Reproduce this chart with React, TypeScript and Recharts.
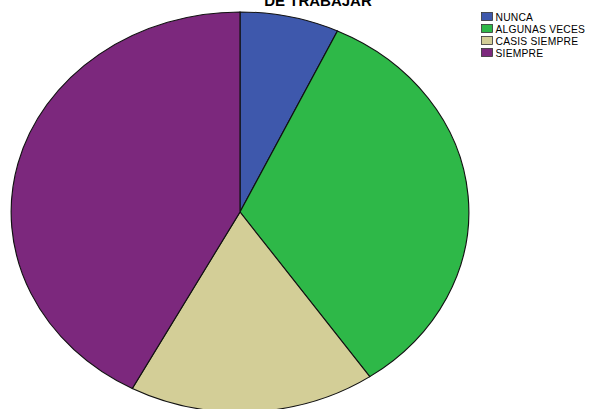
import { PieChart, Pie, Cell } from "recharts";

const categories = ["NUNCA", "ALGUNAS VECES", "CASIS SIEMPRE", "SIEMPRE"];
const values = [7.0, 33.4, 17.4, 42.2];
const COLORS = ["#3E58AC", "#2EB848", "#D3CE97", "#7C287D"];

const data = categories.map((name, i) => ({ name, value: values[i] }));

const App = () => {
  return (
    <div
      style={{
        position: "absolute",
        left: 0,
        top: 0,
        width: 589,
        height: 409,
        overflow: "hidden",
        background: "#fff",
        fontFamily: "'Liberation Sans', Arial, sans-serif",
      }}
    >
      {/* pie drawn as a circle, stretched into an ellipse */}
      <div
        style={{
          position: "absolute",
          left: 10,
          top: 11,
          width: 402,
          height: 402,
          transform: `scaleX(${230 / 201})`,
          transformOrigin: "left top",
        }}
      >
        <PieChart width={402} height={402} margin={{ top: 0, right: 0, bottom: 0, left: 0 }}>
          <Pie
            data={data}
            dataKey="value"
            cx={201}
            cy={201}
            outerRadius={200}
            startAngle={90}
            endAngle={-270}
            stroke="#111"
            strokeWidth={1}
            isAnimationActive={false}
          >
            {data.map((_, index) => (
              <Cell key={`cell-${index}`} fill={COLORS[index]} />
            ))}
          </Pie>
        </PieChart>
      </div>

      <svg width={589} height={409} style={{ position: "absolute", left: 0, top: 0, pointerEvents: "none" }}>
        <text
          x={318}
          y={6}
          textAnchor="middle"
          fontSize={15}
          fontWeight="bold"
          fill="#000"
          fontFamily="'Liberation Sans', Arial, sans-serif"
        >
          DE TRABAJAR
        </text>
        {categories.map((c, i) => (
          <g key={c}>
            <rect
              x={481.5}
              y={12.5 + i * 12}
              width={11}
              height={8}
              fill={COLORS[i]}
              stroke="#333"
              strokeWidth={0.8}
            />
            <text
              x={495.5}
              y={20.5 + i * 12}
              fontSize={10.3}
              letterSpacing={0.2}
              fill="#000"
              fontFamily="'Liberation Sans', Arial, sans-serif"
            >
              {c}
            </text>
          </g>
        ))}
      </svg>
    </div>
  );
};

export default App;
